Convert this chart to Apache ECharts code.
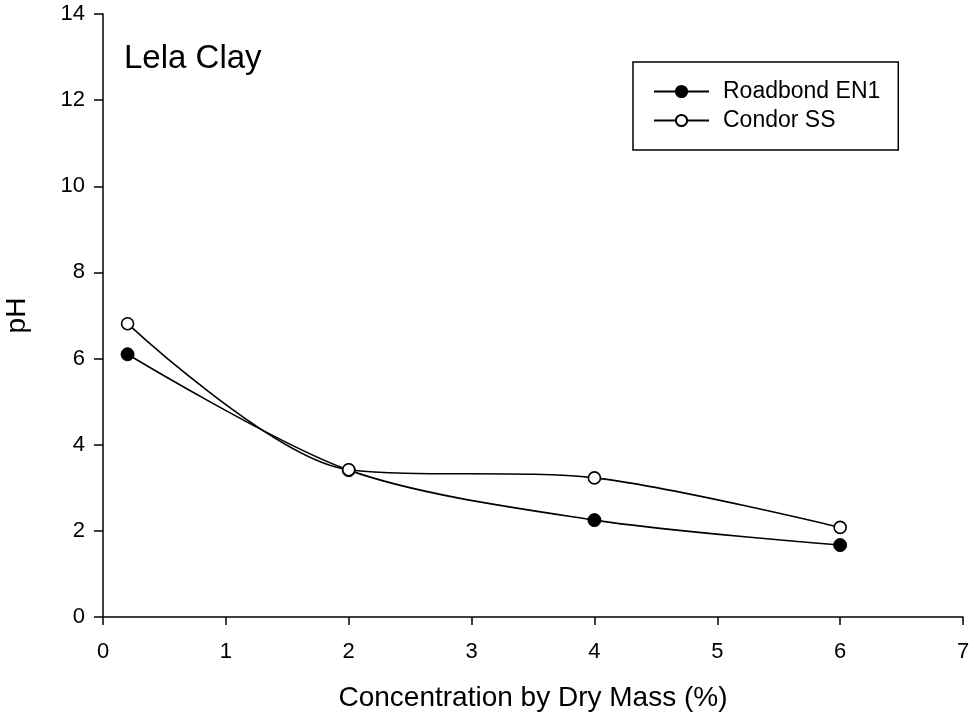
<!DOCTYPE html>
<html>
<head>
<meta charset="utf-8">
<script src="https://cdn.jsdelivr.net/npm/echarts@6/dist/echarts.min.js"></script>
<style>html,body{margin:0;padding:0;background:#fff;}#c{width:969px;height:719px;}</style>
</head>
<body>
<div id="c"></div>
<script>
const concentration = [0.2, 2, 4, 6];
const roadbondEN1 = [6.10, 3.41, 2.25, 1.67];
const condorSS = [6.81, 3.42, 3.23, 2.08];
const seriesNames = ['Roadbond EN1', 'Condor SS'];
const titleText = 'Lela Clay';
const xAxisName = 'Concentration by Dry Mass (%)';
const yAxisName = 'pH';

const FONT = '"Liberation Sans", Arial, sans-serif';
const chart = echarts.init(document.getElementById('c'), null, {renderer: 'canvas'});
const pair = (xs, ys) => xs.map((x, i) => [x, ys[i]]);

chart.setOption({
  backgroundColor: '#fff',
  animation: false,
  title: {
    text: titleText, left: 124, top: 42, padding: 0,
    textStyle: {fontFamily: FONT, fontSize: 33, fontWeight: 'normal', color: '#000'}
  },
  legend: {
    orient: 'vertical', left: 633, top: 62,
    padding: [18, 18, 18, 20], itemGap: 6,
    borderColor: '#000', borderWidth: 1.5, borderRadius: 0,
    itemWidth: 55, itemHeight: 14,
    textStyle: {fontFamily: FONT, fontSize: 23, color: '#000', padding: [0, 0, 0, 9], lineHeight: 23},
    data: seriesNames
  },
  grid: {left: 103, top: 14, width: 860, height: 603, containLabel: false, outerBoundsMode: 'none'},
  xAxis: {
    type: 'value', min: 0, max: 7, interval: 1,
    name: xAxisName, nameLocation: 'middle', nameGap: 67,
    nameTextStyle: {fontFamily: FONT, fontSize: 28, color: '#000'},
    axisLine: {onZero: false, lineStyle: {color: '#000', width: 1.5}},
    axisTick: {show: true, inside: false, length: 8, lineStyle: {color: '#000', width: 1.5}},
    axisLabel: {fontFamily: FONT, fontSize: 22, color: '#000', margin: 24},
    splitLine: {show: false}
  },
  yAxis: {
    type: 'value', min: 0, max: 14, interval: 2,
    name: yAxisName, nameLocation: 'middle', nameGap: 72,
    nameTextStyle: {fontFamily: FONT, fontSize: 28, color: '#000'},
    axisLine: {onZero: false, lineStyle: {color: '#000', width: 1.5}},
    axisTick: {show: true, inside: false, length: 9, lineStyle: {color: '#000', width: 1.5}},
    axisLabel: {fontFamily: FONT, fontSize: 22, color: '#000', margin: 18},
    splitLine: {show: false}
  },
  series: [
    {
      name: seriesNames[0], type: 'line', smooth: 0.3,
      data: pair(concentration, roadbondEN1),
      symbol: 'circle', symbolSize: 13,
      itemStyle: {color: '#000', borderColor: '#000', borderWidth: 1},
      lineStyle: {color: '#000', width: 1.6}, z: 3
    },
    {
      name: seriesNames[1], type: 'line', smooth: 0.3,
      data: pair(concentration, condorSS),
      symbol: 'circle', symbolSize: 12,
      itemStyle: {color: '#fff', borderColor: '#000', borderWidth: 1.6},
      lineStyle: {color: '#000', width: 1.6}, z: 4
    }
  ]
});
</script>
</body>
</html>
